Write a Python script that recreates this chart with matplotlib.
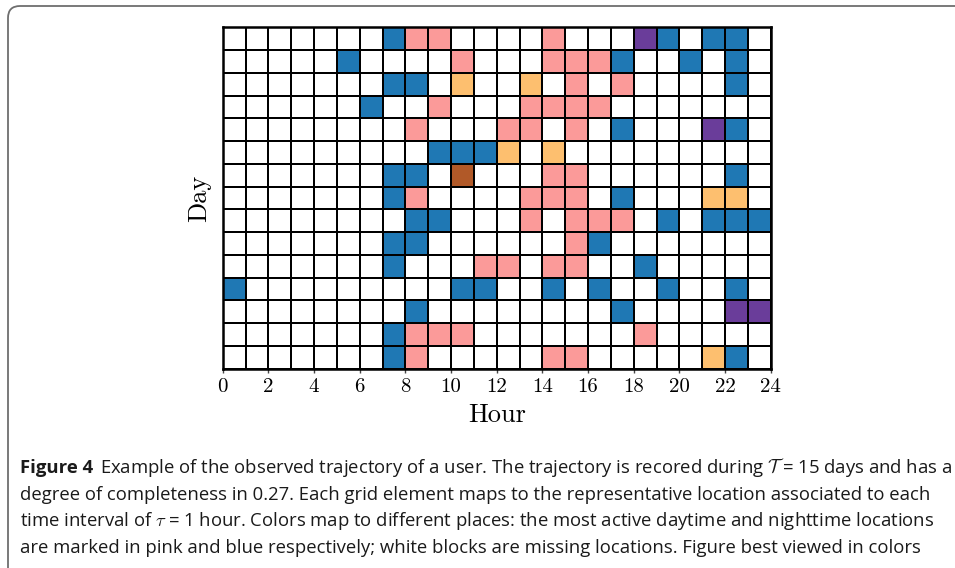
import numpy as np
import matplotlib
matplotlib.use("Agg")
import matplotlib.pyplot as plt
from matplotlib.colors import ListedColormap
from matplotlib.patches import FancyBboxPatch
from matplotlib.transforms import IdentityTransform
from matplotlib import font_manager

plt.rcParams['mathtext.fontset'] = 'cm'
plt.rcParams['axes.formatter.use_mathtext'] = True

# one string per day, one char per hour
# '.' missing, 'N' nighttime place, 'D' daytime place, others = other places
hour_edges = np.arange(25)
day_edges = np.arange(16)
hour_ticks = np.arange(0, 25, 2)
place_codes = ['.', 'N', 'D', 'O', 'U', 'R']
place_colors = ['#ffffff', '#1f78b4', '#fb9a99', '#fdbf6f', '#6a3d9a', '#b15928']
trajectory = [
    ".......NDD....D...UN.NN.",
    ".....N....D...DDDN..N.N.",
    ".......NN.O..O.D.D....N.",
    "......N..D...DDDD.......",
    "........D...DD.D.N...UN.",
    ".........NNNO.O.........",
    ".......NN.R...DD......N.",
    ".......ND....DDD.N...OO.",
    "........NN...D.DDD.N.NNN",
    ".......NN......DN.......",
    ".......N...DD.DD..N.....",
    "N.........NN..N.N..N..N.",
    "........N........N....UU",
    ".......NDDD.......D.....",
    ".......ND.....DD.....ON.",
]

caption_bold = "Figure 4"
caption_lines = [
    r"Example of the observed trajectory of a user. The trajectory is recored during $\mathcal{T}$ = 15 days and has a",
    "degree of completeness in 0.27. Each grid element maps to the representative location associated to each",
    r"time interval of $\tau$ = 1 hour. Colors map to different places: the most active daytime and nighttime locations",
    "are marked in pink and blue respectively; white blocks are missing locations. Figure best viewed in colors",
]

grid = np.array([[place_codes.index(ch) for ch in row] for row in trajectory])

W, H = 955, 568
fig = plt.figure(figsize=(W / 100, H / 100), dpi=100)

# rounded frame around figure + caption
frame = FancyBboxPatch((8, -20), 1100, H - 6 + 20,
                       boxstyle="round,pad=0,rounding_size=12",
                       transform=IdentityTransform(), facecolor='none',
                       edgecolor='#6e6e6e', linewidth=1.3)
fig.patches.append(frame)

ax = fig.add_axes([222.7 / W, 1 - 368.7 / H, 548 / W, 341.4 / H])
ax.pcolormesh(hour_edges, day_edges, grid, cmap=ListedColormap(place_colors),
              vmin=-0.5, vmax=len(place_codes) - 0.5,
              edgecolors='k', linewidth=1.25)
ax.set_xlim(0, 24)
ax.set_ylim(15, 0)
ax.set_yticks([])
ax.set_xticks(hour_ticks)
ax.set_xticklabels([str(h) for h in hour_ticks], fontfamily='cmr10', fontsize=15)
ax.tick_params(axis='x', direction='out', length=3, width=1, color='#444444', pad=4)
for s in ax.spines.values():
    s.set_linewidth(1.8)
ax.set_xlabel("Hour", fontfamily='cmr10', fontsize=19, labelpad=5)
ax.set_ylabel("Day", fontfamily='cmr10', fontsize=19, labelpad=8)

# caption font
cap_font = 'DejaVu Sans'
for fam in ['Liberation Sans Narrow', 'Open Sans', 'Lato', 'Noto Sans']:
    try:
        font_manager.findfont(font_manager.FontProperties(family=fam), fallback_to_default=False)
        cap_font = fam
        break
    except Exception:
        pass

renderer = fig.canvas.get_renderer()


def put_caption(size):
    arts = []
    ends = []
    for i, line in enumerate(caption_lines):
        y = H - (473 + i * 26.7)
        x = 20
        if i == 0:
            t = fig.text(x, y, caption_bold, transform=IdentityTransform(),
                         fontfamily=cap_font, fontweight='bold', fontsize=size,
                         va='baseline', color='#1a1a1a')
            arts.append(t)
            x = t.get_window_extent(renderer).x1 + 0.55 * size
        t = fig.text(x, y, line, transform=IdentityTransform(),
                     fontfamily=cap_font, fontsize=size, va='baseline', color='#1a1a1a')
        arts.append(t)
        ends.append(t.get_window_extent(renderer).x1)
    return arts, ends


arts, ends = put_caption(13)
size = 13 * (948 - 20) / (ends[0] - 20)
for a in arts:
    a.remove()
put_caption(size)

fig.savefig("out.png", dpi=100)
